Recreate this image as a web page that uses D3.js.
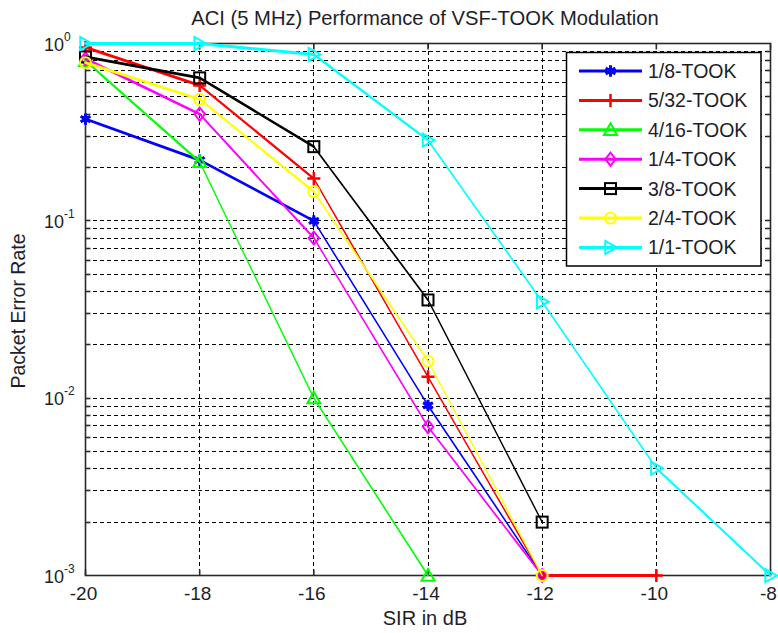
<!DOCTYPE html>
<html><head><meta charset="utf-8">
<script src="https://cdn.jsdelivr.net/npm/d3@7"></script>
<style>
body{margin:0;background:#fff;}
text{font-family:"Liberation Sans",Arial,sans-serif;fill:#1e1e2a;}
</style></head>
<body>
<svg id="c" width="778" height="633"></svg>
<script>
const sir = [-20, -18, -16, -14, -12, -10, -8];
const xTicks = [-20, -18, -16, -14, -12, -10, -8];
const yTickExp = [0, -1, -2, -3];
const seriesNames = ["1/8-TOOK","5/32-TOOK","4/16-TOOK","1/4-TOOK","3/8-TOOK","2/4-TOOK","1/1-TOOK"];
const seriesColors = ["#0000ff","#ff0000","#00ff00","#ff00ff","#000000","#ffff00","#00ffff"];
const seriesMarkers = ["asterisk","plus","triangle","diamond","square","circle","triright"];
const per18 = [0.375, 0.22, 0.100, 0.0091, 0.001];
const per532 = [0.95, 0.58, 0.173, 0.0132, 0.001, 0.001];
const per416 = [0.80, 0.215, 0.010, 0.001];
const per14 = [0.82, 0.40, 0.080, 0.0069, 0.001];
const per38 = [0.84, 0.64, 0.262, 0.0358, 0.0020];
const per24 = [0.78, 0.485, 0.146, 0.0162, 0.001];
const per11 = [1.0, 1.0, 0.867, 0.285, 0.035, 0.00403, 0.001];
const seriesValues = [per18, per532, per416, per14, per38, per24, per11];

const svg = d3.select("#c");
const L = 85.5, R = 770.5, T = 43.5, B = 575.5;
const x = d3.scaleLinear().domain([-20, -8]).range([L, R]);
const y = d3.scaleLog().domain([1e-3, 1]).range([B, T]);
const px = v => Math.round(v - 0.5) + 0.5;

// grid
const grid = svg.append("g").attr("stroke", "#000").attr("stroke-width", 1)
  .attr("stroke-dasharray", "4,3").attr("shape-rendering", "crispEdges");
xTicks.slice(1, -1).forEach(v => {
  grid.append("line").attr("x1", px(x(v))).attr("x2", px(x(v))).attr("y1", T).attr("y2", B);
});
const minorVals = [];
for (let e = -3; e < 0; e++) for (let m = 1; m < 10; m++) { const v = m * Math.pow(10, e); if (v > 1e-3) minorVals.push(v); }
minorVals.forEach(v => {
  grid.append("line").attr("x1", L).attr("x2", R).attr("y1", px(y(v))).attr("y2", px(y(v)));
});

// axes frame & ticks
const ax = svg.append("g").attr("stroke", "#2a2a2a").attr("stroke-width", 1.6).attr("fill", "none");
ax.append("rect").attr("x", L).attr("y", T).attr("width", R - L).attr("height", B - T);
xTicks.forEach(v => {
  ax.append("line").attr("x1", x(v)).attr("x2", x(v)).attr("y1", B).attr("y2", B - 6);
  ax.append("line").attr("x1", x(v)).attr("x2", x(v)).attr("y1", T).attr("y2", T + 6);
});
minorVals.forEach(v => {
  ax.append("line").attr("x1", L).attr("x2", L + 5).attr("y1", px(y(v))).attr("y2", px(y(v)));
  ax.append("line").attr("x1", R).attr("x2", R - 5).attr("y1", px(y(v))).attr("y2", px(y(v)));
});

// tick labels
xTicks.forEach(v => {
  svg.append("text").attr("x", x(v) - 2).attr("y", 600).attr("text-anchor", "middle")
    .attr("font-size", 19).text(v);
});
yTickExp.forEach(e => {
  const yy = y(Math.pow(10, e));
  const t = svg.append("text").attr("x", 44).attr("y", yy + 7).attr("font-size", 18);
  t.append("tspan").text("10");
  t.append("tspan").attr("font-size", 12).attr("dy", -10).text(e);
});

// titles
svg.append("text").attr("x", 425).attr("y", 25).attr("text-anchor", "middle").attr("font-size", 20.2)
  .text("ACI (5 MHz) Performance of VSF-TOOK Modulation");
svg.append("text").attr("x", 425).attr("y", 625).attr("text-anchor", "middle").attr("font-size", 20)
  .text("SIR in dB");
svg.append("text").attr("transform", "translate(25,311) rotate(-90)").attr("text-anchor", "middle")
  .attr("font-size", 19.5).text("Packet Error Rate");

// markers
function marker(g, type, cx, cy, color) {
  const s = 6.5;
  const m = g.append("g").attr("transform", `translate(${cx},${cy})`)
    .attr("stroke", color).attr("stroke-width", 2).attr("fill", "none");
  if (type === "asterisk") {
    m.append("path").attr("d", d3.symbol(d3.symbolAsterisk, 90)()).attr("stroke-width", 3);
    m.append("circle").attr("r", 2.5).attr("fill", color);
  } else if (type === "plus") {
    m.append("path").attr("d", `M${-s},0H${s}M0,${-s}V${s}`).attr("stroke-width", 2.5);
  } else if (type === "triangle") {
    m.append("path").attr("d", `M0,${-s}L${s},${s*0.8}L${-s},${s*0.8}Z`);
  } else if (type === "diamond") {
    m.append("path").attr("d", `M0,${-s}L${s*0.8},0L0,${s}L${-s*0.8},0Z`);
  } else if (type === "square") {
    m.append("rect").attr("x", -5.5).attr("y", -5.5).attr("width", 11).attr("height", 11);
  } else if (type === "circle") {
    m.append("circle").attr("r", 5.5);
  } else if (type === "triright") {
    m.append("path").attr("d", `M${s},0L${-s*0.8},${-s}L${-s*0.8},${s}Z`);
  }
}

// series lines
const plot = svg.append("g");
seriesValues.forEach((vals, i) => {
  const pts = vals.map((v, j) => [x(sir[j]), y(v)]);
  const g = plot.append("g");
  for (let j = 0; j < pts.length - 1; j++) {
    const dx = pts[j+1][0] - pts[j][0], dy = pts[j+1][1] - pts[j][1];
    const c = dx / Math.hypot(dx, dy);
    g.append("line").attr("x1", pts[j][0]).attr("y1", pts[j][1]).attr("x2", pts[j+1][0]).attr("y2", pts[j+1][1])
      .attr("stroke", seriesColors[i]).attr("stroke-width", 1 + 2 * c * c).attr("stroke-linecap", "round");
  }
  pts.forEach(p => marker(g, seriesMarkers[i], p[0], p[1], seriesColors[i]));
});

// legend
const lg = svg.append("g");
lg.append("rect").attr("x", 566.5).attr("y", 52.5).attr("width", 194.5).attr("height", 213.5)
  .attr("fill", "#fff").attr("stroke", "#000").attr("stroke-width", 1.5);
seriesNames.forEach((n, i) => {
  const yy = 71 + i * 29.4;
  lg.append("line").attr("x1", 579).attr("x2", 642).attr("y1", yy).attr("y2", yy)
    .attr("stroke", seriesColors[i]).attr("stroke-width", 3);
  marker(lg, seriesMarkers[i], 610.5, yy, seriesColors[i]);
  lg.append("text").attr("x", 648).attr("y", yy + 7).attr("font-size", 19.5).text(n);
});
</script>
</body></html>
